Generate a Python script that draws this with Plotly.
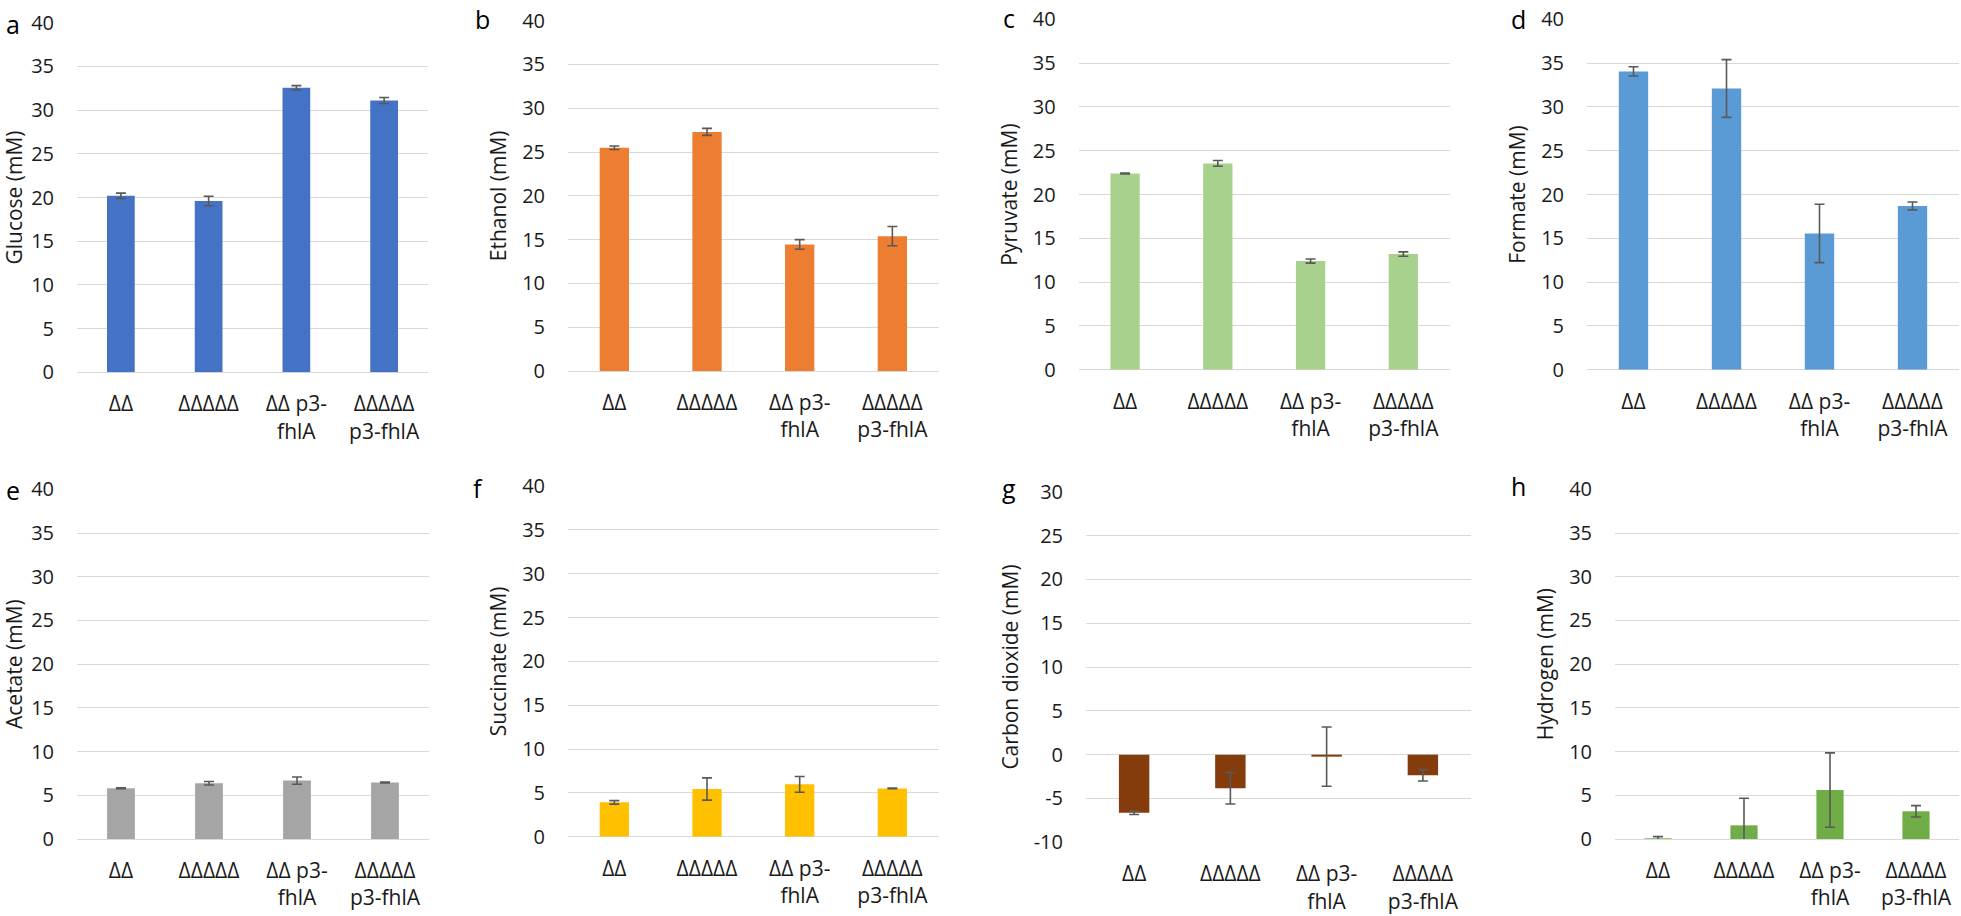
import plotly.graph_objects as go

W, H = 1961, 916

categories = ["ΔΔ", "ΔΔΔΔΔ", "ΔΔ p3-fhlA", "ΔΔΔΔΔ p3-fhlA"]
tick_labels = ["ΔΔ", "ΔΔΔΔΔ", "ΔΔ p3-<br>fhlA", "ΔΔΔΔΔ<br>p3-fhlA"]
y_ticks_pos = [0, 5, 10, 15, 20, 25, 30, 35, 40]
y_ticks_co2 = [-10, -5, 0, 5, 10, 15, 20, 25, 30]

glucose = [20.2, 19.6, 32.55, 31.1]
glucose_err = [0.3, 0.55, 0.25, 0.35]
ethanol = [25.5, 27.3, 14.45, 15.4]
ethanol_err = [0.2, 0.4, 0.55, 1.1]
pyruvate = [22.4, 23.55, 12.4, 13.2]
pyruvate_err = [0.05, 0.33, 0.23, 0.25]
formate = [34.05, 32.1, 15.55, 18.7]
formate_err = [0.53, 3.3, 3.33, 0.45]
acetate = [5.8, 6.37, 6.68, 6.45]
acetate_err = [0.05, 0.2, 0.42, 0.05]
succinate = [3.92, 5.44, 5.97, 5.51]
succinate_err = [0.2, 1.27, 0.9, 0.03]
co2 = [-6.62, -3.84, -0.23, -2.36]
co2_err = [0.2, 1.79, 3.38, 0.65]
hydrogen = [0.05, 1.56, 5.6, 3.17]
hydrogen_err = [0.22, 3.1, 4.25, 0.65]

panels = [
    # letter, title, values, errors, color, yticks, x0, x1, ytop, ybot, letter x, letter y (screen px)
    ("a", "Glucose (mM)", glucose, glucose_err, "#4472C4", y_ticks_pos, 77, 428, 22.7, 372.3, 13, 24),
    ("b", "Ethanol (mM)", ethanol, ethanol_err, "#ED7D31", y_ticks_pos, 568, 938.7, 20.7, 371, 482, 19),
    ("c", "Pyruvate (mM)", pyruvate, pyruvate_err, "#A9D18E", y_ticks_pos, 1078.7, 1449.7, 19.3, 369.7, 1009, 18),
    ("d", "Formate (mM)", formate, formate_err, "#5B9BD5", y_ticks_pos, 1587, 1959, 19.3, 369.7, 1518, 19),
    ("e", "Acetate (mM)", acetate, acetate_err, "#A5A5A5", y_ticks_pos, 77, 429, 489.3, 839, 13, 490),
    ("f", "Succinate (mM)", succinate, succinate_err, "#FFC000", y_ticks_pos, 568, 938.7, 486, 836.7, 478, 488),
    ("g", "Carbon dioxide (mM)", co2, co2_err, "#843C0C", y_ticks_co2, 1086, 1471, 491.7, 842.3, 1009, 488),
    ("h", "Hydrogen (mM)", hydrogen, hydrogen_err, "#70AD47", y_ticks_pos, 1615, 1959, 489.3, 839, 1518, 486),
]


def px_x(v):
    return v / W


def px_y(v):
    return 1 - v / H


FONT = "Open Sans"
TXT = "#1a1a1a"
fig = go.Figure()
annotations = []
for i, (letter, title, vals, errs, color, yt_vals, x0, x1, yt, yb, lx, ly) in enumerate(panels):
    n = "" if i == 0 else str(i + 1)
    fig.add_trace(go.Bar(
        x=list(range(len(categories))), y=vals,
        marker=dict(color=color, line=dict(width=0)),
        error_y=dict(type="data", array=errs, visible=True, color="#595959", thickness=1.6, width=5),
        xaxis="x" + n, yaxis="y" + n, showlegend=False, hoverinfo="y",
    ))
    fig.layout["xaxis" + n] = dict(
        domain=[px_x(x0), min(px_x(x1), 1)], anchor="y" + n, range=[-0.5, 3.5],
        tickvals=list(range(len(categories))), ticktext=tick_labels,
        showgrid=False, zeroline=False, showline=False, ticks="",
        ticklabelstandoff=17, automargin=False, ticklabeloverflow="allow",
        tickfont=dict(family=FONT, size=21, color=TXT),
    )
    fig.layout["yaxis" + n] = dict(
        domain=[px_y(yb), px_y(yt)], anchor="x" + n,
        range=[yt_vals[0], yt_vals[-1]],
        tickvals=yt_vals, ticktext=[str(v) for v in yt_vals],
        showgrid=True, gridcolor="#D9D9D9", gridwidth=1.3,
        zeroline=True, zerolinecolor="#D9D9D9", zerolinewidth=1.3,
        showline=False, ticks="", ticklabelstandoff=22, automargin=False,
        ticklabeloverflow="allow",
        tickfont=dict(family=FONT, size=20, color=TXT),
        title=dict(text=title, font=dict(family=FONT, size=21, color=TXT), standoff=9),
    )
    annotations.append(dict(
        text=letter, x=px_x(lx), y=px_y(ly), xref="paper", yref="paper",
        xanchor="center", yanchor="middle", showarrow=False,
        font=dict(family=FONT, size=25, color="#000000"),
    ))

fig.update_layout(
    width=W, height=H, margin=dict(l=0, r=0, t=0, b=0),
    paper_bgcolor="white", plot_bgcolor="white",
    bargap=0.684, annotations=annotations,
)
fig.write_html(
    "out.html",
    config={"displayModeBar": False},
    post_script="document.body.style.margin='0';document.body.style.overflow='hidden';",
)
